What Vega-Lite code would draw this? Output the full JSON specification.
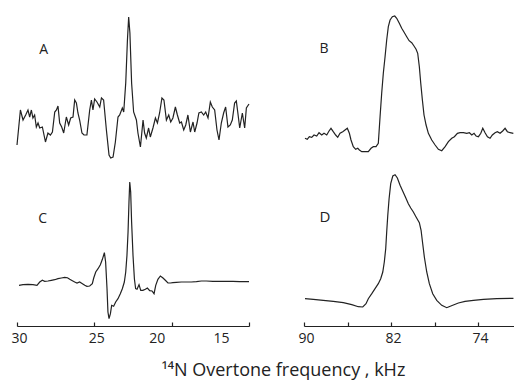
{
  "$schema": "https://vega.github.io/schema/vega-lite/v6.json",
  "padding": {"left": 10, "top": 10, "right": 0, "bottom": 0},
  "background": "white",
  "config": {"view": {"stroke": null}, "font": "Open Sans"},
  "title": {"text": "¹⁴N Overtone frequency , kHz", "orient": "bottom", "anchor": "middle", "dx": 20, "offset": 17, "fontSize": 18, "font": "Open Sans", "fontWeight": "normal", "color": "#222"},
  "datasets": {
    "A": [
      {"f":30.0,"v":20},{"f":29.78,"v":55},{"f":29.61,"v":45},{"f":29.44,"v":50},{"f":29.29,"v":55},{"f":29.18,"v":48},{"f":29.07,"v":55},{"f":28.97,"v":47},{"f":28.86,"v":50},{"f":28.75,"v":38},{"f":28.64,"v":42},{"f":28.53,"v":37},{"f":28.36,"v":38},{"f":28.16,"v":23},{"f":28.0,"v":32},{"f":27.84,"v":30},{"f":27.71,"v":33},{"f":27.56,"v":53},{"f":27.45,"v":55},{"f":27.35,"v":59},{"f":27.24,"v":42},{"f":27.11,"v":38},{"f":26.98,"v":32},{"f":26.81,"v":48},{"f":26.66,"v":40},{"f":26.53,"v":47},{"f":26.38,"v":48},{"f":26.27,"v":65},{"f":26.16,"v":62},{"f":26.06,"v":52},{"f":25.95,"v":45},{"f":25.8,"v":32},{"f":25.67,"v":30},{"f":25.48,"v":30},{"f":25.3,"v":55},{"f":25.19,"v":65},{"f":25.09,"v":55},{"f":24.98,"v":66},{"f":24.83,"v":63},{"f":24.65,"v":58},{"f":24.54,"v":67},{"f":24.4,"v":65},{"f":24.22,"v":35},{"f":24.05,"v":10},{"f":23.94,"v":7},{"f":23.79,"v":8},{"f":23.64,"v":23},{"f":23.47,"v":48},{"f":23.36,"v":50},{"f":23.19,"v":57},{"f":23.1,"v":53},{"f":22.97,"v":82},{"f":22.86,"v":125},{"f":22.78,"v":148},{"f":22.7,"v":132},{"f":22.59,"v":82},{"f":22.46,"v":53},{"f":22.28,"v":45},{"f":22.18,"v":32},{"f":22.02,"v":18},{"f":21.85,"v":45},{"f":21.75,"v":32},{"f":21.64,"v":27},{"f":21.49,"v":37},{"f":21.38,"v":28},{"f":21.21,"v":37},{"f":21.05,"v":47},{"f":20.92,"v":42},{"f":20.78,"v":52},{"f":20.63,"v":67},{"f":20.5,"v":65},{"f":20.34,"v":45},{"f":20.19,"v":50},{"f":20.06,"v":43},{"f":19.92,"v":47},{"f":19.76,"v":58},{"f":19.63,"v":50},{"f":19.48,"v":42},{"f":19.37,"v":43},{"f":19.22,"v":35},{"f":19.09,"v":40},{"f":18.95,"v":50},{"f":18.79,"v":33},{"f":18.62,"v":43},{"f":18.51,"v":33},{"f":18.36,"v":42},{"f":18.24,"v":52},{"f":18.08,"v":53},{"f":17.93,"v":50},{"f":17.8,"v":53},{"f":17.65,"v":47},{"f":17.5,"v":63},{"f":17.37,"v":58},{"f":17.22,"v":55},{"f":17.07,"v":35},{"f":16.94,"v":25},{"f":16.79,"v":42},{"f":16.64,"v":52},{"f":16.51,"v":58},{"f":16.36,"v":38},{"f":16.21,"v":40},{"f":16.08,"v":45},{"f":15.93,"v":62},{"f":15.82,"v":64},{"f":15.72,"v":52},{"f":15.6,"v":37},{"f":15.43,"v":52},{"f":15.28,"v":37},{"f":15.17,"v":57},{"f":15.0,"v":61}
    ],
    "B": [
      {"f":89.91,"v":26.7},{"f":89.7,"v":25.7},{"f":89.51,"v":28.3},{"f":89.29,"v":27.7},{"f":89.08,"v":30},{"f":88.83,"v":29},{"f":88.62,"v":32.3},{"f":88.37,"v":30},{"f":88.16,"v":31.7},{"f":87.91,"v":30},{"f":87.7,"v":34},{"f":87.52,"v":36.7},{"f":87.31,"v":33.3},{"f":87.09,"v":30},{"f":86.9,"v":27.7},{"f":86.69,"v":31.7},{"f":86.44,"v":33.3},{"f":86.23,"v":35},{"f":86.02,"v":36.7},{"f":85.83,"v":31.7},{"f":85.68,"v":25},{"f":85.47,"v":18.3},{"f":85.25,"v":15.7},{"f":85.06,"v":16.7},{"f":84.91,"v":15},{"f":84.69,"v":13.3},{"f":84.39,"v":13.3},{"f":84.09,"v":13.3},{"f":83.84,"v":16.7},{"f":83.63,"v":18.3},{"f":83.38,"v":18.3},{"f":83.17,"v":21.7},{"f":83.01,"v":48.3},{"f":82.86,"v":71.7},{"f":82.71,"v":91.7},{"f":82.55,"v":108.3},{"f":82.4,"v":125},{"f":82.25,"v":138.3},{"f":82.09,"v":145},{"f":81.88,"v":148.3},{"f":81.66,"v":149},{"f":81.48,"v":146.7},{"f":81.24,"v":141.7},{"f":81.02,"v":136.7},{"f":80.8,"v":132.7},{"f":80.56,"v":128.3},{"f":80.34,"v":124.3},{"f":80.1,"v":122.3},{"f":79.89,"v":119},{"f":79.7,"v":115.7},{"f":79.55,"v":111.7},{"f":79.4,"v":98.3},{"f":79.27,"v":81.7},{"f":79.12,"v":65},{"f":78.97,"v":50},{"f":78.78,"v":40},{"f":78.57,"v":31.7},{"f":78.26,"v":25},{"f":77.95,"v":20},{"f":77.65,"v":15.7},{"f":77.34,"v":14.3},{"f":77.03,"v":18.3},{"f":76.73,"v":23.3},{"f":76.42,"v":26.7},{"f":76.18,"v":28.3},{"f":75.9,"v":31.7},{"f":75.66,"v":32.3},{"f":75.35,"v":32.3},{"f":75.04,"v":31.7},{"f":74.8,"v":32.3},{"f":74.58,"v":30},{"f":74.37,"v":31.7},{"f":74.18,"v":29},{"f":73.97,"v":28.3},{"f":73.75,"v":31.7},{"f":73.57,"v":36.7},{"f":73.36,"v":32.3},{"f":73.14,"v":28.3},{"f":72.9,"v":26.7},{"f":72.69,"v":30},{"f":72.44,"v":32.3},{"f":72.23,"v":33.3},{"f":71.98,"v":31.7},{"f":71.74,"v":34},{"f":71.52,"v":36.7},{"f":71.31,"v":33.3},{"f":71.06,"v":32.3},{"f":70.76,"v":31.7}
    ],
    "C": [
      {"f":29.87,"v":40.7},{"f":29.61,"v":41.3},{"f":29.29,"v":41.7},{"f":28.97,"v":41.3},{"f":28.71,"v":40.7},{"f":28.53,"v":44},{"f":28.36,"v":45.7},{"f":28.21,"v":44.7},{"f":28.0,"v":45},{"f":27.78,"v":45.7},{"f":27.56,"v":46.3},{"f":27.35,"v":47.3},{"f":27.13,"v":48},{"f":26.92,"v":48.7},{"f":26.74,"v":48.3},{"f":26.59,"v":46.7},{"f":26.42,"v":45.3},{"f":26.27,"v":44},{"f":26.12,"v":43},{"f":25.95,"v":44},{"f":25.77,"v":42.3},{"f":25.62,"v":40.7},{"f":25.48,"v":39.7},{"f":25.3,"v":40},{"f":25.13,"v":42.3},{"f":25.04,"v":48},{"f":24.91,"v":54},{"f":24.76,"v":57.3},{"f":24.61,"v":61.3},{"f":24.48,"v":66.7},{"f":24.35,"v":73.3},{"f":24.27,"v":64},{"f":24.18,"v":37.3},{"f":24.12,"v":14},{"f":24.05,"v":7.3},{"f":23.96,"v":12.3},{"f":23.88,"v":20.7},{"f":23.75,"v":19.7},{"f":23.62,"v":24},{"f":23.47,"v":27.3},{"f":23.32,"v":32.3},{"f":23.19,"v":37.3},{"f":23.06,"v":44},{"f":22.97,"v":54},{"f":22.89,"v":70.7},{"f":22.82,"v":94},{"f":22.76,"v":124},{"f":22.71,"v":144},{"f":22.65,"v":134},{"f":22.59,"v":104},{"f":22.5,"v":70.7},{"f":22.41,"v":47.3},{"f":22.33,"v":37.3},{"f":22.24,"v":36.7},{"f":22.11,"v":41.3},{"f":22.0,"v":35.7},{"f":21.86,"v":35.7},{"f":21.7,"v":36.7},{"f":21.57,"v":38},{"f":21.42,"v":35.3},{"f":21.27,"v":35},{"f":21.14,"v":32.3},{"f":21.03,"v":40.7},{"f":20.89,"v":46.7},{"f":20.73,"v":50},{"f":20.56,"v":48},{"f":20.41,"v":45.7},{"f":20.24,"v":43},{"f":20.08,"v":43},{"f":19.92,"v":43.3},{"f":19.7,"v":43.7},{"f":19.37,"v":44},{"f":19.05,"v":44},{"f":18.73,"v":44},{"f":18.4,"v":44.3},{"f":18.08,"v":45},{"f":17.76,"v":45},{"f":17.33,"v":44.7},{"f":16.9,"v":44.7},{"f":16.46,"v":44.7},{"f":16.04,"v":44.7},{"f":15.61,"v":44.3},{"f":15.0,"v":44.3}
    ],
    "D": [
      {"f":89.91,"v":27.3},{"f":89.14,"v":26.7},{"f":88.23,"v":25.7},{"f":87.31,"v":24.7},{"f":86.39,"v":23.3},{"f":85.61,"v":21.3},{"f":85.01,"v":19.3},{"f":84.6,"v":19},{"f":84.3,"v":22.3},{"f":84.09,"v":27.3},{"f":83.77,"v":32.3},{"f":83.47,"v":37.3},{"f":83.17,"v":42.3},{"f":82.95,"v":47.3},{"f":82.76,"v":54},{"f":82.62,"v":64},{"f":82.49,"v":77.3},{"f":82.4,"v":94},{"f":82.3,"v":110.7},{"f":82.18,"v":127.3},{"f":82.03,"v":142.3},{"f":81.84,"v":150},{"f":81.63,"v":151.3},{"f":81.42,"v":148},{"f":81.17,"v":140.7},{"f":80.92,"v":134.7},{"f":80.65,"v":128.3},{"f":80.41,"v":122.3},{"f":80.19,"v":118},{"f":79.95,"v":114},{"f":79.7,"v":109},{"f":79.4,"v":103.3},{"f":79.24,"v":95.7},{"f":79.09,"v":82.3},{"f":78.94,"v":69},{"f":78.72,"v":54},{"f":78.48,"v":42.3},{"f":78.17,"v":32.3},{"f":77.8,"v":25.7},{"f":77.34,"v":20.7},{"f":76.88,"v":18.3},{"f":76.73,"v":19},{"f":76.33,"v":20.7},{"f":75.81,"v":23},{"f":75.2,"v":24.7},{"f":74.43,"v":25.7},{"f":73.51,"v":26.7},{"f":72.28,"v":27.3},{"f":70.75,"v":27.7}
    ],
    "labels": [
      {"panel":"A","f":28.27,"v":115,"text":"A"},
      {"panel":"B","f":88.16,"v":116,"text":"B"},
      {"panel":"C","f":28.34,"v":107,"text":"C"},
      {"panel":"D","f":88.07,"v":109,"text":"D"}
    ]
  },
  "bounds": "flush",
  "spacing": {"row": 6, "column": 55},
  "columns": 2,
  "concat": [
    {
      "width": 232, "height": 155,
      "layer": [
        {"data": {"name": "A"}, "mark": {"type": "line", "color": "#222", "strokeWidth": 1.2},
         "encoding": {"x": {"field": "f", "type": "quantitative", "scale": {"domain": [15, 30], "reverse": true, "nice": false, "zero": false}, "axis": null},
                      "y": {"field": "v", "type": "quantitative", "scale": {"domain": [0, 155], "nice": false}, "axis": null}}},
        {"data": {"name": "labels"}, "transform": [{"filter": "datum.panel == 'A'"}], "mark": {"type": "text", "fontSize": 14, "font": "Open Sans", "color": "#222"},
         "encoding": {"x": {"field": "f", "type": "quantitative"}, "y": {"field": "v", "type": "quantitative"}, "text": {"field": "text"}}}
      ]
    },
    {
      "width": 210, "height": 155,
      "layer": [
        {"data": {"name": "B"}, "mark": {"type": "line", "color": "#222", "strokeWidth": 1.2},
         "encoding": {"x": {"field": "f", "type": "quantitative", "scale": {"domain": [70.7, 90], "reverse": true, "nice": false, "zero": false}, "axis": null},
                      "y": {"field": "v", "type": "quantitative", "scale": {"domain": [0, 155], "nice": false}, "axis": null}}},
        {"data": {"name": "labels"}, "transform": [{"filter": "datum.panel == 'B'"}], "mark": {"type": "text", "fontSize": 14, "font": "Open Sans", "color": "#222"},
         "encoding": {"x": {"field": "f", "type": "quantitative"}, "y": {"field": "v", "type": "quantitative"}, "text": {"field": "text"}}}
      ]
    },
    {
      "width": 232, "height": 155,
      "layer": [
        {"data": {"name": "C"}, "mark": {"type": "line", "color": "#222", "strokeWidth": 1.2},
         "encoding": {"x": {"field": "f", "type": "quantitative", "scale": {"domain": [15, 30], "reverse": true, "nice": false, "zero": false},
                            "axis": {"values": [30, 25, 20, 15], "title": null, "grid": false, "labelFlush": false, "tickSize": -4, "tickWidth": 1.2, "domainWidth": 1.2, "domainColor": "#222", "tickColor": "#222", "labelColor": "#222", "labelFont": "Open Sans", "labelFontSize": 14, "labelPadding": 9, "labelOffset": {"condition": [{"test": "datum.value == 20", "value": -15}, {"test": "datum.value == 15", "value": -28}], "value": 2}}},
                      "y": {"field": "v", "type": "quantitative", "scale": {"domain": [0, 155], "nice": false}, "axis": null}}},
        {"data": {"name": "labels"}, "transform": [{"filter": "datum.panel == 'C'"}], "mark": {"type": "text", "fontSize": 14, "font": "Open Sans", "color": "#222"},
         "encoding": {"x": {"field": "f", "type": "quantitative"}, "y": {"field": "v", "type": "quantitative"}, "text": {"field": "text"}}}
      ]
    },
    {
      "width": 210, "height": 155,
      "layer": [
        {"data": {"name": "D"}, "mark": {"type": "line", "color": "#222", "strokeWidth": 1.2},
         "encoding": {"x": {"field": "f", "type": "quantitative", "scale": {"domain": [70.7, 90], "reverse": true, "nice": false, "zero": false},
                            "axis": {"values": [90, 86, 82, 78, 74], "labelExpr": "datum.value % 8 == 2 ? datum.label : ''", "title": null, "grid": false, "labelFlush": false, "tickSize": -4, "tickWidth": 1.2, "domainWidth": 1.2, "domainColor": "#222", "tickColor": "#222", "labelColor": "#222", "labelFont": "Open Sans", "labelFontSize": 14, "labelPadding": 9, "labelOffset": 2}},
                      "y": {"field": "v", "type": "quantitative", "scale": {"domain": [0, 155], "nice": false}, "axis": null}}},
        {"data": {"name": "labels"}, "transform": [{"filter": "datum.panel == 'D'"}], "mark": {"type": "text", "fontSize": 15, "font": "Open Sans", "color": "#222"},
         "encoding": {"x": {"field": "f", "type": "quantitative"}, "y": {"field": "v", "type": "quantitative"}, "text": {"field": "text"}}}
      ]
    }
  ]
}
